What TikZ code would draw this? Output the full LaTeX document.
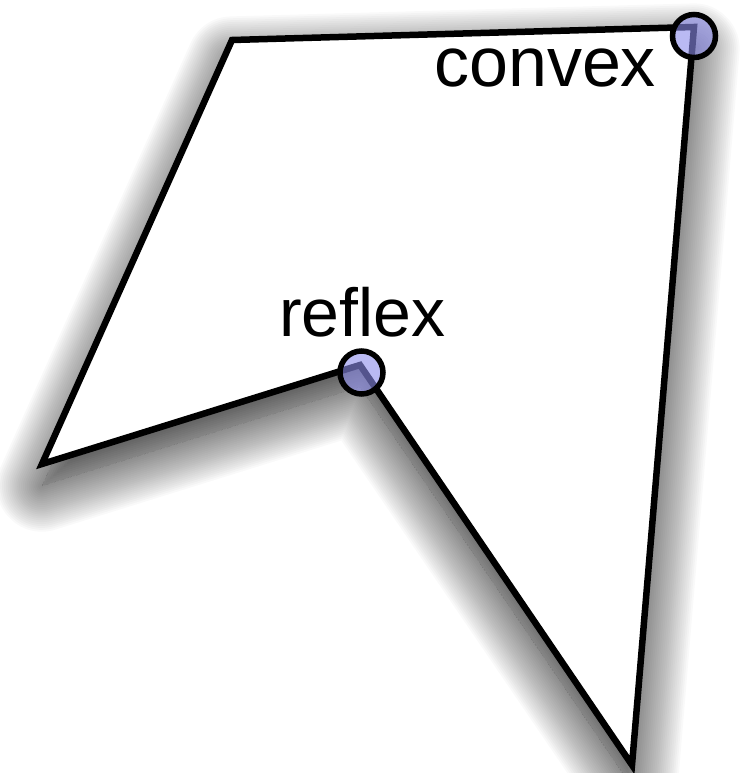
\documentclass[tikz,border=0pt]{standalone}
\usepackage{fontspec}
\setmainfont{Liberation Sans}
\definecolor{vtxblue}{RGB}{140,140,235}
\tikzset{
  poly/.style={draw=black, line width=6.5pt, line join=miter, fill=white},
  outlayer/.style={draw=black, line join=round, draw opacity=0.0246},
  inlayer/.style={draw=white, line join=round, draw opacity=0.0285},
  vtx/.style={circle, minimum size=43pt, inner sep=0pt, draw=black, line width=5.5pt, fill=vtxblue, fill opacity=0.6},
  lbl/.style={inner sep=0pt, anchor=base west, text=black}
}
\begin{document}
\begin{tikzpicture}[x=1pt,y=-1pt]
\useasboundingbox (0,0) rectangle (739,773);
\coordinate (tl) at (232,40);
\coordinate (tr) at (694,27);
\coordinate (bt) at (632,765);
\coordinate (rf) at (360,365);
\coordinate (lf) at (42,464);
\coordinate (stl) at ([yshift=-22pt]tl);
\coordinate (str) at ([yshift=-22pt]tr);
\coordinate (sbt) at ([yshift=-22pt]bt);
\coordinate (srf) at ([yshift=-22pt]rf);
\coordinate (slf) at ([yshift=-22pt]lf);
% shadow outside the shifted outline
\begin{scope}[even odd rule]
\clip (-50,-50) rectangle (800,840) (stl) -- (str) -- (sbt) -- (srf) -- (slf) -- cycle;
\foreach \k in {1,...,24} {
  \path[outlayer, line width=3.8*\k pt] (stl) -- (str) -- (sbt) -- (srf) -- (slf) -- cycle;
}
\end{scope}
% shadow inside the shifted outline
\begin{scope}
\clip (stl) -- (str) -- (sbt) -- (srf) -- (slf) -- cycle;
\fill[black, fill opacity=0.9] (stl) -- (str) -- (sbt) -- (srf) -- (slf) -- cycle;
\foreach \k in {1,...,24} {
  \path[inlayer, line width=3.8*\k pt] (stl) -- (str) -- (sbt) -- (srf) -- (slf) -- cycle;
}
\end{scope}
\path[poly] (tl) -- (tr) -- (bt) -- (rf) -- (lf) -- cycle;
\node[vtx] (cv) at (694,36) {};
\node[vtx] (rv) at (361.5,372.5) {};
\node[lbl, font=\fontsize{70}{70}\selectfont] (cvl) at (434,87) {convex};
\node[lbl, font=\fontsize{68}{68}\selectfont] (rvl) at (279,336) {reflex};
\end{tikzpicture}
\end{document}
